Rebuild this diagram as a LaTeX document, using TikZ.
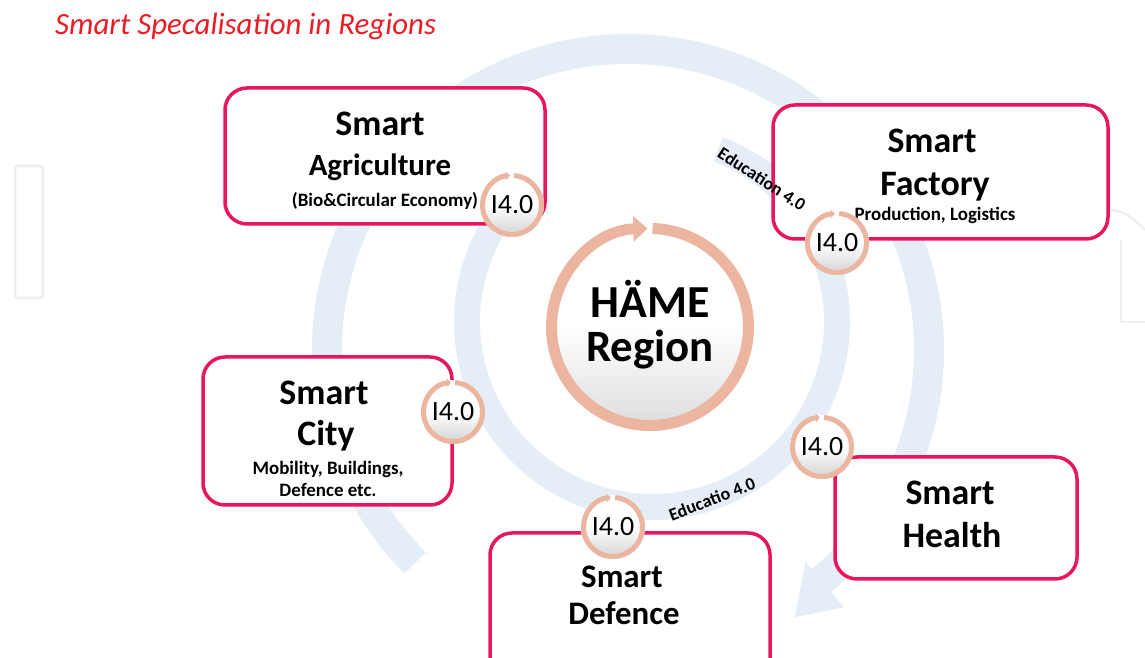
\documentclass[tikz,border=0pt]{standalone}
\usepackage{fontspec}
\setmainfont{Carlito}
\usetikzlibrary{arrows.meta,calc}
\definecolor{boxpink}{RGB}{232,22,92}
\definecolor{titlered}{RGB}{236,28,36}
\definecolor{bandblue}{RGB}{229,237,246}
\definecolor{salmon}{RGB}{236,181,160}
\definecolor{wmgray}{RGB}{238,240,240}
\newcommand\fsz[1]{\fontsize{#1}{#1}\selectfont}
\begin{document}
\begin{tikzpicture}[x=1bp,y=1bp,
  pbox/.style={draw=boxpink, line width=3.5bp, rounded corners=22bp, fill=white, inner sep=0pt},
  txtbig/.style={font=\bfseries\fsz{36}, anchor=base, inner sep=0pt},
  txtsmall/.style={font=\bfseries\fsz{19}, anchor=base, inner sep=0pt},
  icirc/.style={circle, minimum size=64bp, inner sep=0pt, top color=white, bottom color=black!18, middle color=white, font=\fsz{28}},
  iring/.style={draw=salmon, line width=5bp, -{Triangle[length=4bp,width=8bp]}},
  edu/.style={font=\bfseries\fsz{18}, inner sep=0pt}]
\useasboundingbox (0,0) rectangle (1145,658);
\clip (0,0) rectangle (1145,658);
% watermark
\draw[wmgray, line width=2.5bp, rounded corners=3bp] (15,360) rectangle (43,492);
\draw[wmgray, line width=2.5bp] (1145,336) -- (1121,336) -- (1121,418);
\draw[wmgray, line width=2.5bp] (1108,448) to[out=0,in=135] (1145,428);
% title
\node[anchor=base west, inner sep=0pt, text=titlered, font=\itshape\fsz{31}] (title) at (55,623) {Smart Specalisation in Regions};
% bands
\coordinate (O) at (628,308);
\coordinate (C2) at (652,336);
\fill[bandblue] ($(O)+(225:316)$) arc[start angle=225,end angle=-50,radius=316]
  -- ($(O)+(-50:336)$) -- ($(O)+(-58:315)$) -- ($(O)+(-50:276)$)
  -- ($(O)+(-50:286)$) arc[start angle=-50,end angle=225,radius=286] -- cycle;
\fill[bandblue] ($(C2)+(69:198)$) arc[start angle=69,end angle=-218,radius=198]
  -- ($(C2)+(-218:172)$) arc[start angle=-218,end angle=69,radius=172] -- cycle;
% boxes
\node[pbox, minimum width=320bp, minimum height=136bp] (agri) at (385,502) {};
\node[pbox, minimum width=335bp, minimum height=134bp] (fact) at (940.5,486) {};
\node[pbox, minimum width=249bp, minimum height=148bp] (city) at (327.5,227) {};
\node[pbox, minimum width=280bp, minimum height=147bp] (defe) at (630,51.5) {};
\node[pbox, minimum width=242bp, minimum height=122bp] (heal) at (956,140) {};
% box texts
\node[txtbig] (agri1) at (380,522) {Smart};
\node[txtbig, font=\bfseries\fsz{31}] (agri2) at (380,482) {Agriculture};
\node[txtsmall] (agri3) at (385,451) {(Bio\&Circular Economy)};
\node[txtbig] (fact1) at (932,505) {Smart};
\node[txtbig] (fact2) at (935,462) {Factory};
\node[txtsmall] (fact3) at (935,437) {Production, Logistics};
\node[txtbig] (city1) at (324,253) {Smart};
\node[txtbig] (city2) at (326,212) {City};
\node[txtsmall] (city3) at (328,183) {Mobility, Buildings,};
\node[txtsmall] (city4) at (328,161) {Defence etc.};
\node[txtbig, font=\bfseries\fsz{33}] (defe1) at (622,70) {Smart};
\node[txtbig, font=\bfseries\fsz{33}] (defe2) at (624,33) {Defence};
\node[txtbig] (heal1) at (950,153) {Smart};
\node[txtbig] (heal2) at (952,110) {Health};
% centre
\node[circle, minimum size=208bp, inner sep=0pt, top color=white, bottom color=black!14, middle color=white] (hame) at (650,331) {};
\draw[draw=salmon, line width=11bp, -{Triangle[length=14bp,width=25bp]}] ($(hame.center)+(88.5:98.5)$) arc[start angle=88.5,end angle=-268.5,radius=98.5];
\node[font=\bfseries\fsz{46}, anchor=base, inner sep=0pt] (hame1) at (650,340) {HÄME};
\node[font=\bfseries\fsz{45}, anchor=base, inner sep=0pt] (hame2) at (650,296) {Region};
% I4.0 circles
\node[icirc] (ia) at (512,453) {I4.0};
\node[icirc] (ib) at (837,415) {I4.0};
\node[icirc] (ic) at (453,246) {I4.0};
\node[icirc] (id) at (613,131) {I4.0};
\node[icirc] (ie) at (822,211) {I4.0};
\foreach \n in {ia,ib,ic,id,ie}
  \draw[iring] ($(\n.center)+(86:29.5)$) arc[start angle=86,end angle=-266,radius=29.5];
% education labels
\node[edu, rotate=-33] (edu1) at (762,479) {Education 4.0};
\node[edu, rotate=21] (edu2) at (712,159) {Educatio 4.0};
\end{tikzpicture}
\end{document}
